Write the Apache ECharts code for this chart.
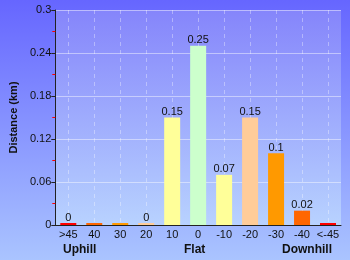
<!DOCTYPE html>
<html>
<head>
<meta charset="utf-8">
<script src="https://cdn.jsdelivr.net/npm/echarts@6/dist/echarts.min.js"></script>
<style>
  html, body { margin: 0; padding: 0; }
  #chart { width: 350px; height: 260px; }
</style>
</head>
<body>
<div id="chart"></div>
<script>
// slope buckets and distance (km)
const categories = ['>45', '40', '30', '20', '10', '0', '-10', '-20', '-30', '-40', '<-45']
const distances = [0, 0, 0, 0, 0.15, 0.25, 0.07, 0.15, 0.1, 0.02, 0]
const barColors = ['#ff0000', '#ff6600', '#ff9900', '#ffcc99', '#ffff99', '#ccffcc',
  '#ffff99', '#ffcc99', '#ff9900', '#ff6600', '#ff0000']
const showLabel = [true, false, false, true, true, true, true, true, true, true, false]
const groups = ['Uphill', 'Flat', 'Downhill']

const font = 'Liberation Sans, Arial, sans-serif'

const chart = echarts.init(document.getElementById('chart'))
chart.setOption({
  animation: false,
  backgroundColor: new echarts.graphic.LinearGradient(0, 0, 0, 1, [
    { offset: 0, color: '#6666ff' },
    { offset: 1, color: '#aac4ff' }
  ]),
  grid: {
    left: 51, right: 9, top: 10, bottom: 35,
    show: true,
    borderWidth: 0,
    backgroundColor: new echarts.graphic.LinearGradient(0, 0, 0, 1, [
      { offset: 0, color: '#8585fb' },
      { offset: 1, color: '#b8d2ff' }
    ])
  },
  xAxis: [{
    type: 'category',
    data: categories,
    axisLine: { lineStyle: { color: '#222', width: 1 } },
    axisTick: { show: false },
    axisLabel: { color: '#111', fontFamily: font, fontSize: 11, margin: 4, interval: 0 },
    splitLine: { show: false }
  }, {
    // helper axis: dashed guide lines through the middle of each category
    type: 'value',
    min: 0, max: categories.length * 2, interval: 2,
    show: true,
    axisLine: { show: false },
    axisTick: { show: false },
    axisLabel: { show: false },
    splitLine: { show: false },
    minorTick: { show: false, splitNumber: 2 },
    minorSplitLine: { show: true, lineStyle: { color: 'rgba(255,255,255,0.35)', type: [4, 4] } }
  }],
  yAxis: {
    type: 'value',
    min: 0, max: 0.3, interval: 0.06,
    name: 'Distance (km)',
    nameLocation: 'middle',
    nameGap: 36,
    nameTextStyle: { color: '#111', fontFamily: font, fontSize: 11, fontWeight: 'bold' },
    axisLine: { show: true, lineStyle: { color: '#222' } },
    axisTick: { show: true, length: 4, lineStyle: { color: '#222' } },
    minorTick: { show: true, splitNumber: 2, length: 3, lineStyle: { color: '#ff0000' } },
    axisLabel: {
      color: '#111', fontFamily: font, fontSize: 11, margin: 4,
      formatter: v => String(+v.toFixed(2))
    },
    splitLine: { show: true, lineStyle: { color: 'rgba(255,255,255,0.45)' } }
  },
  series: [{
    type: 'bar',
    xAxisIndex: 0,
    barWidth: 16,
    barMinHeight: 2,
    data: distances.map((v, i) => ({
      value: v,
      itemStyle: { color: barColors[i] },
      label: { show: showLabel[i] }
    })),
    label: {
      position: 'top', distance: 0,
      color: '#111', fontFamily: font, fontSize: 11
    }
  }],
  graphic: groups.map((g, i) => ({
    type: 'text',
    left: [63, 184, 282][i],
    top: 244,
    style: { text: g, fill: '#111', font: 'bold 12px ' + font }
  }))
})
</script>
</body>
</html>
